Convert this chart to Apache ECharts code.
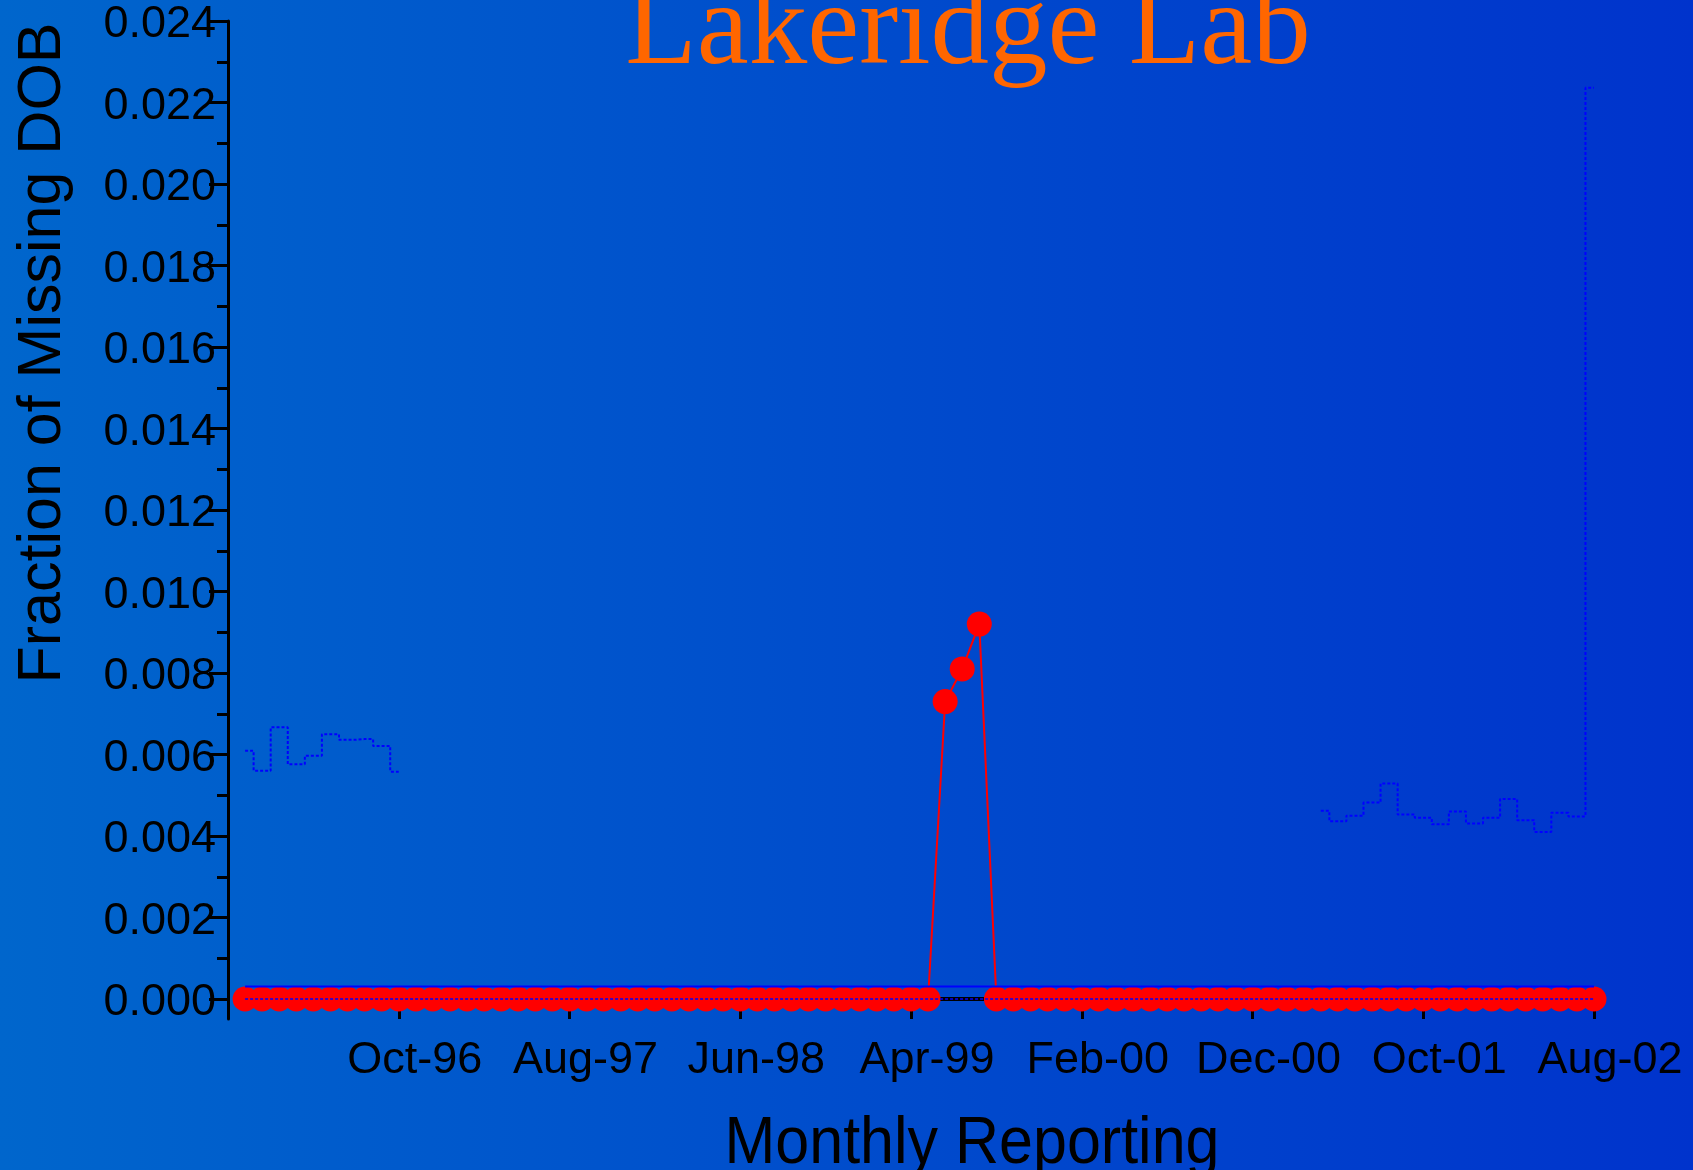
<!DOCTYPE html>
<html>
<head>
<meta charset="utf-8">
<title>Lakeridge Lab</title>
<script src="https://cdn.jsdelivr.net/npm/echarts@6/dist/echarts.min.js"></script>
<style>
  html, body { margin: 0; padding: 0; }
  #chart { width: 1693px; height: 1170px; }
</style>
</head>
<body>
<div id="chart"></div>
<script>
// x = month number, Dec-95 = 0, Jan-96 = 1 ... Aug-02 = 80
const tickLabels = ['Oct-96', 'Aug-97', 'Jun-98', 'Apr-99', 'Feb-00', 'Dec-00', 'Oct-01', 'Aug-02']

// fraction of missing DOB, Jan-96 .. Aug-02
const missingFraction = [
  0, 0, 0, 0, 0, 0, 0, 0, 0, 0,
  0, 0, 0, 0, 0, 0, 0, 0, 0, 0,
  0, 0, 0, 0, 0, 0, 0, 0, 0, 0,
  0, 0, 0, 0, 0, 0, 0, 0, 0, 0,
  0, 0.0073, 0.0081, 0.0092, 0, 0, 0, 0, 0, 0,
  0, 0, 0, 0, 0, 0, 0, 0, 0, 0,
  0, 0, 0, 0, 0, 0, 0, 0, 0, 0,
  0, 0, 0, 0, 0, 0, 0, 0, 0, 0
]

// upper limit (dotted steps), two stretches
const uclEarlyStart = 1
const uclEarly = [0.00609, 0.0056, 0.00667, 0.00576, 0.00597, 0.0065, 0.00636, 0.00638, 0.00621, 0.00558]
const uclLateStart = 64
const uclLate = [0.00462, 0.00436, 0.0045, 0.00482, 0.00529, 0.00453, 0.00445, 0.00429, 0.0046,
  0.00431, 0.00445, 0.00491, 0.00439, 0.0041, 0.00457, 0.00448, 0.02236]

const centerValue = 0.00031
const lowerValue = 0

const majorTicks = [0, 0.002, 0.004, 0.006, 0.008, 0.010, 0.012, 0.014, 0.016, 0.018, 0.020, 0.022, 0.024]
const minorTicks = [0.001, 0.003, 0.005, 0.007, 0.009, 0.011, 0.013, 0.015, 0.017, 0.019, 0.021, 0.023]

const firstMonth = 1
const lastMonth = missingFraction.length

const sans = 'Liberation Sans, Arial, sans-serif'

const pairs = (arr, start) => arr.map((v, i) => [start + i, v])
const flat = v => [[firstMonth, v], [lastMonth, v]]

const chart = echarts.init(document.getElementById('chart'))

const option = {
  animation: false,
  backgroundColor: {
    type: 'linear', x: 0, y: 0, x2: 1, y2: 0,
    colorStops: [
      { offset: 0, color: '#0066CC' },
      { offset: 1, color: '#0033CC' }
    ]
  },
  grid: { left: 228, right: 99, top: 21, bottom: 151 },
  graphic: [
    {
      type: 'text', x: 968, y: 32,
      style: {
        text: 'Lakeridge Lab', fill: '#FF6600',
        font: '117px "Liberation Serif", "Times New Roman", serif',
        align: 'center', verticalAlign: 'middle'
      }
    },
    {
      type: 'text', x: 43, y: 353, rotation: Math.PI / 2,
      style: {
        text: 'Fraction of Missing DOB', fill: '#000',
        font: '61px ' + sans, align: 'center', verticalAlign: 'middle'
      }
    },
    {
      type: 'text', x: 972, y: 1145, scaleY: 1.08,
      style: {
        text: 'Monthly Reporting', fill: '#000',
        font: '61px ' + sans, align: 'center', verticalAlign: 'middle'
      }
    }
  ],
  xAxis: {
    type: 'value',
    min: 0,
    max: 80,
    interval: 10,
    axisLine: { show: false, onZero: false },
    axisTick: { show: true, inside: true, length: 20, lineStyle: { color: '#000', width: 3 } },
    axisLabel: {
      color: '#000', fontSize: 45, fontFamily: sans, margin: 19,
      padding: [0, 0, 0, 32], showMaxLabel: true, showMinLabel: true,
      formatter: v => (v > 0 ? tickLabels[v / 10 - 1] : '')
    },
    splitLine: { show: false }
  },
  yAxis: [
    {
      type: 'value',
      position: 'left',
      min: -0.00049,
      max: 0.024,
      axisLine: { show: true, onZero: false, lineStyle: { color: '#000', width: 3 } },
      axisTick: { show: true, length: 19, customValues: majorTicks, lineStyle: { color: '#000', width: 3 } },
      axisLabel: {
        color: '#000', fontSize: 45, fontFamily: sans, margin: 12,
        verticalAlign: 'top', lineHeight: 8, customValues: majorTicks,
        formatter: v => v.toFixed(3)
      },
      splitLine: { show: false }
    },
    {
      type: 'value',
      position: 'left',
      min: -0.00049,
      max: 0.024,
      axisLine: { show: false, onZero: false },
      axisTick: { show: true, length: 11, customValues: minorTicks, lineStyle: { color: '#000', width: 3 } },
      axisLabel: { show: false },
      splitLine: { show: false }
    }
  ],
  series: [
    {
      name: 'lower base',
      type: 'line',
      data: flat(lowerValue),
      symbol: 'none',
      lineStyle: { color: '#000', width: 4 },
      z: 1
    },
    {
      name: 'upper early',
      type: 'line',
      step: 'middle',
      data: pairs(uclEarly, uclEarlyStart),
      symbol: 'none',
      lineStyle: { color: '#0000FF', width: 2, type: [3, 2] },
      z: 2
    },
    {
      name: 'upper late',
      type: 'line',
      step: 'middle',
      data: pairs(uclLate, uclLateStart),
      symbol: 'none',
      lineStyle: { color: '#0000FF', width: 2, type: [3, 2] },
      z: 2
    },
    {
      name: 'missing DOB',
      type: 'line',
      data: pairs(missingFraction, firstMonth),
      symbol: 'circle',
      symbolSize: 25,
      showSymbol: true,
      itemStyle: { color: '#FF0000' },
      lineStyle: { color: '#FF0000', width: 2 },
      z: 3
    },
    {
      name: 'lower',
      type: 'line',
      data: flat(lowerValue),
      symbol: 'none',
      lineStyle: { color: '#0000FF', width: 1.5, type: [3, 2] },
      z: 4
    },
    {
      name: 'center',
      type: 'line',
      data: flat(centerValue),
      symbol: 'none',
      lineStyle: { color: '#0000FF', width: 2 },
      z: 4
    }
  ]
}

chart.setOption(option)
</script>
</body>
</html>
